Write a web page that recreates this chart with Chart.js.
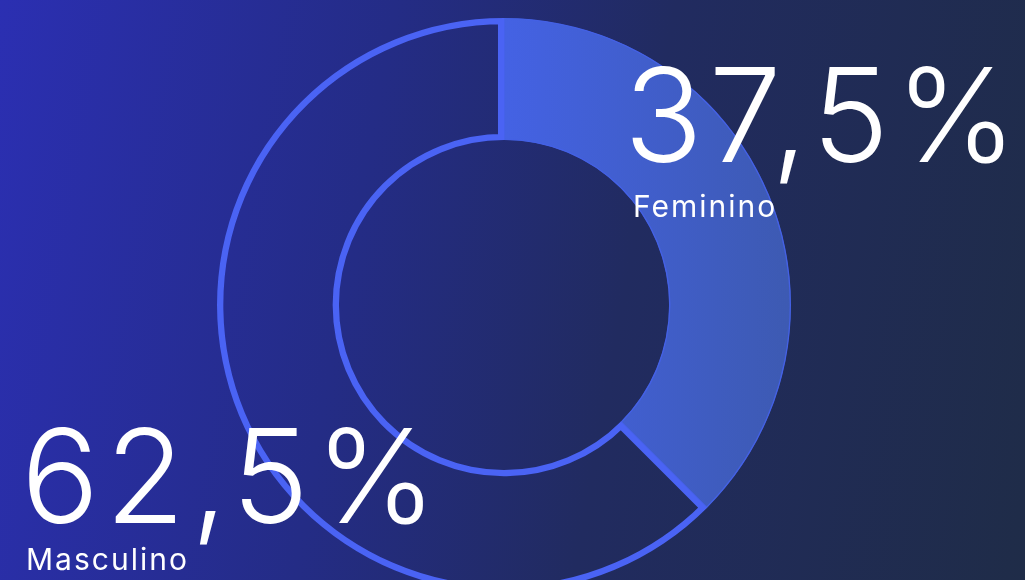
<!DOCTYPE html>
<html>
<head>
<meta charset="utf-8">
<script src="https://cdn.jsdelivr.net/npm/chart.js@4.4.1/dist/chart.umd.min.js"></script>
<style>
    html, body {
        margin: 0;
        width: 1025px;
        height: 580px;
        overflow: hidden;
    }
    body {
        position: relative;
        background: linear-gradient(100deg, #2b2fb2 0%, #242c86 35%, #212b60 60%, #1f2c48 100%);
        font-family: "Inter", "Noto Sans", sans-serif;
        color: #ffffff;
    }
    #wrap {
        position: absolute;
        left: 217px;
        top: 18px;
        width: 574px;
        height: 574px;
    }
    .lbl {
        position: absolute;
        white-space: nowrap;
    }
    .big {
        font-size: 130px;
        font-weight: 300;
        line-height: 1;
        letter-spacing: 6px;
    }
    .small {
        font-size: 30px;
        font-weight: 400;
        line-height: 1;
        letter-spacing: 2px;
    }
</style>
</head>
<body>
<div id="wrap"><canvas id="chrt"></canvas></div>
<div class="lbl big" id="v0" style="left:624px; top:50px;"></div>
<div class="lbl small" id="l0" style="left:633px; top:191px;"></div>
<div class="lbl big" id="v1" style="left:21px; top:411px;"></div>
<div class="lbl small" id="l1" style="left:26px; top:544px;"></div>
<script>
let labels = ['Feminino', 'Masculino'];
let values = [37.5, 62.5];

for (let i = 0; i < labels.length; i++) {
    document.getElementById("v" + i).textContent = values[i].toFixed(1).replace(".", ",") + "%";
    document.getElementById("l" + i).textContent = labels[i];
}

function segFill(context) {
    if (context.dataIndex === 1) return 'rgba(0,0,0,0)';
    let chart = context.chart;
    let area = chart.chartArea;
    if (!area) return '#4361e0';
    let cx = (area.left + area.right) / 2;
    let g = chart.ctx.createLinearGradient(cx, 0, area.right, 0);
    g.addColorStop(0, '#4462e4');
    g.addColorStop(1, '#3d5ab2');
    return g;
}

let chopts = {
    responsive: true,
    maintainAspectRatio: false,
    animation: false,
    cutout: '57.5%',
    events: [],
    layout: { padding: 0 },
    plugins: {
        legend: { display: false },
        tooltip: { enabled: false }
    }
};

let chdata = {
    labels: labels,
    datasets: [
        {
            data: values,
            backgroundColor: segFill,
            borderColor: ['#4461e4', '#4a63f4'],
            borderWidth: [1, 6],
            borderAlign: 'inner',
            hoverOffset: 0
        }
    ]
};

let chrt = document.getElementById("chrt").getContext("2d");
let myPie = new Chart(chrt, {
    type: 'doughnut',
    data: chdata,
    options: chopts
});
</script>
</body>
</html>
